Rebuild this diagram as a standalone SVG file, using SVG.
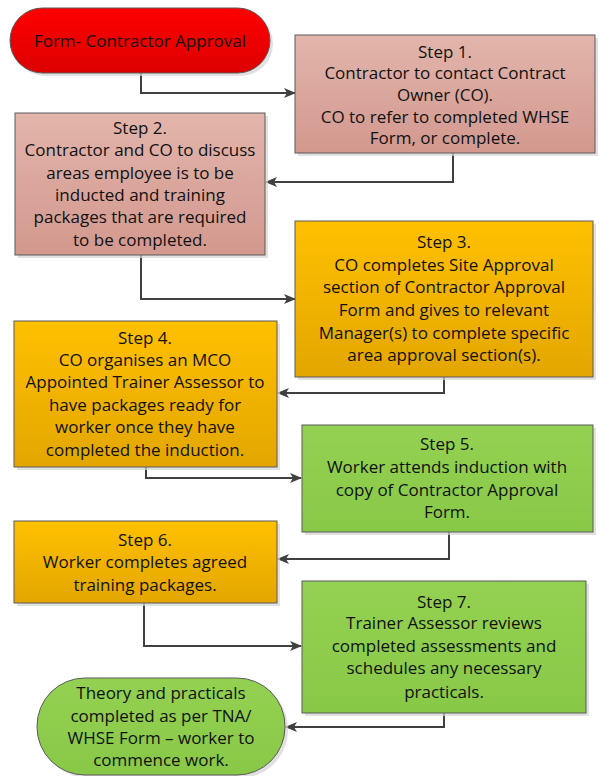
<svg xmlns="http://www.w3.org/2000/svg" width="599" height="776" viewBox="0 0 599 776">
<defs>
<linearGradient id="gRed" x1="0" y1="0" x2="0" y2="1"><stop offset="0" stop-color="#FF0000"/><stop offset="1" stop-color="#DC0000"/></linearGradient>
<linearGradient id="gPink" x1="0" y1="0" x2="0" y2="1"><stop offset="0" stop-color="#E2B5AB"/><stop offset="1" stop-color="#D3988E"/></linearGradient>
<linearGradient id="gOrange" x1="0" y1="0" x2="0" y2="1"><stop offset="0" stop-color="#FFC000"/><stop offset="1" stop-color="#E3A600"/></linearGradient>
<linearGradient id="gGreen" x1="0" y1="0" x2="0" y2="1"><stop offset="0" stop-color="#94D152"/><stop offset="1" stop-color="#88C847"/></linearGradient>
<marker id="arr" viewBox="0 0 12 10" refX="11" refY="5" markerWidth="12" markerHeight="10" markerUnits="userSpaceOnUse" orient="auto">
<path d="M0,0 L12,5 L0,10 L3,5 Z" fill="#404040"/>
</marker>
</defs>
<style>
.sh{fill:#d4d4d4;opacity:0.7}
.box{stroke:#5a5a5a;stroke-width:1}
.t{font-family:"Open Sans","Liberation Sans",Arial,sans-serif;font-size:17px;fill:#111;text-anchor:middle}
.c{fill:none;stroke:#404040;stroke-width:2;marker-end:url(#arr)}
</style>
<rect width="599" height="776" fill="#fff"/>
<g id="connectors">
<path class="c" d="M141,73 V93 H295"/>
<path class="c" d="M453,153 V182 H266"/>
<path class="c" d="M141,255 V299 H295"/>
<path class="c" d="M444,377 V393 H278"/>
<path class="c" d="M146,467 V478 H301"/>
<path class="c" d="M449,532 V559 H278"/>
<path class="c" d="M144,603 V646 H301"/>
<path class="c" d="M444,713 V727 H286"/>
</g>
<g id="start">
<rect class="sh" x="13" y="11" width="260" height="65" rx="32.5"/>
<rect class="box" x="10" y="8" width="260" height="65" rx="32.5" fill="url(#gRed)"/>
<text class="t" x="140" y="47">Form- Contractor Approval</text>
</g>
<g id="step1">
<rect class="sh" x="298" y="38" width="300" height="118"/>
<rect class="box" x="295" y="35" width="300" height="118" fill="url(#gPink)"/>
<text class="t" x="445" y="58">Step 1.</text>
<text class="t" x="445" y="79">Contractor to contact Contract</text>
<text class="t" x="445" y="101">Owner (CO).</text>
<text class="t" x="445" y="123">CO to refer to completed WHSE</text>
<text class="t" x="445" y="144">Form, or complete.</text>
</g>
<g id="step2">
<rect class="sh" x="18" y="116" width="250" height="142"/>
<rect class="box" x="15" y="113" width="250" height="142" fill="url(#gPink)"/>
<text class="t" x="140" y="134">Step 2.</text>
<text class="t" x="140" y="156">Contractor and CO to discuss</text>
<text class="t" x="140" y="179">areas employee is to be</text>
<text class="t" x="140" y="201">inducted and training</text>
<text class="t" x="140" y="223">packages that are required</text>
<text class="t" x="140" y="246">to be completed.</text>
</g>
<g id="step3">
<rect class="sh" x="298" y="224" width="298" height="156"/>
<rect class="box" x="295" y="221" width="298" height="156" fill="url(#gOrange)"/>
<text class="t" x="444" y="248">Step 3.</text>
<text class="t" x="444" y="271">CO completes Site Approval</text>
<text class="t" x="444" y="293">section of Contractor Approval</text>
<text class="t" x="444" y="316">Form and gives to relevant</text>
<text class="t" x="444" y="339">Manager(s) to complete specific</text>
<text class="t" x="444" y="361">area approval section(s).</text>
</g>
<g id="step4">
<rect class="sh" x="17" y="324" width="263" height="146"/>
<rect class="box" x="14" y="321" width="263" height="146" fill="url(#gOrange)"/>
<text class="t" x="145" y="344">Step 4.</text>
<text class="t" x="145" y="366">CO organises an MCO</text>
<text class="t" x="145" y="388">Appointed Trainer Assessor to</text>
<text class="t" x="145" y="411">have packages ready for</text>
<text class="t" x="145" y="433">worker once they have</text>
<text class="t" x="145" y="456">completed the induction.</text>
</g>
<g id="step5">
<rect class="sh" x="305" y="428" width="291" height="107"/>
<rect class="box" x="302" y="425" width="291" height="107" fill="url(#gGreen)"/>
<text class="t" x="447" y="450">Step 5.</text>
<text class="t" x="447" y="473">Worker attends induction with</text>
<text class="t" x="447" y="496">copy of Contractor Approval</text>
<text class="t" x="447" y="518">Form.</text>
</g>
<g id="step6">
<rect class="sh" x="17" y="524" width="263" height="82"/>
<rect class="box" x="14" y="521" width="263" height="82" fill="url(#gOrange)"/>
<text class="t" x="145" y="546">Step 6.</text>
<text class="t" x="145" y="568">Worker completes agreed</text>
<text class="t" x="145" y="591">training packages.</text>
</g>
<g id="step7">
<rect class="sh" x="305" y="584" width="284" height="132"/>
<rect class="box" x="302" y="581" width="284" height="132" fill="url(#gGreen)"/>
<text class="t" x="444" y="608">Step 7.</text>
<text class="t" x="444" y="629">Trainer Assessor reviews</text>
<text class="t" x="444" y="652">completed assessments and</text>
<text class="t" x="444" y="674">schedules any necessary</text>
<text class="t" x="444" y="698">practicals.</text>
</g>
<g id="end">
<rect class="sh" x="40" y="681" width="248" height="97" rx="48"/>
<rect class="box" x="37" y="678" width="248" height="97" rx="48" fill="url(#gGreen)"/>
<text class="t" x="161" y="699">Theory and practicals</text>
<text class="t" x="161" y="722">completed as per TNA/</text>
<text class="t" x="161" y="744">WHSE Form – worker to</text>
<text class="t" x="161" y="766">commence work.</text>
</g>
</svg>
